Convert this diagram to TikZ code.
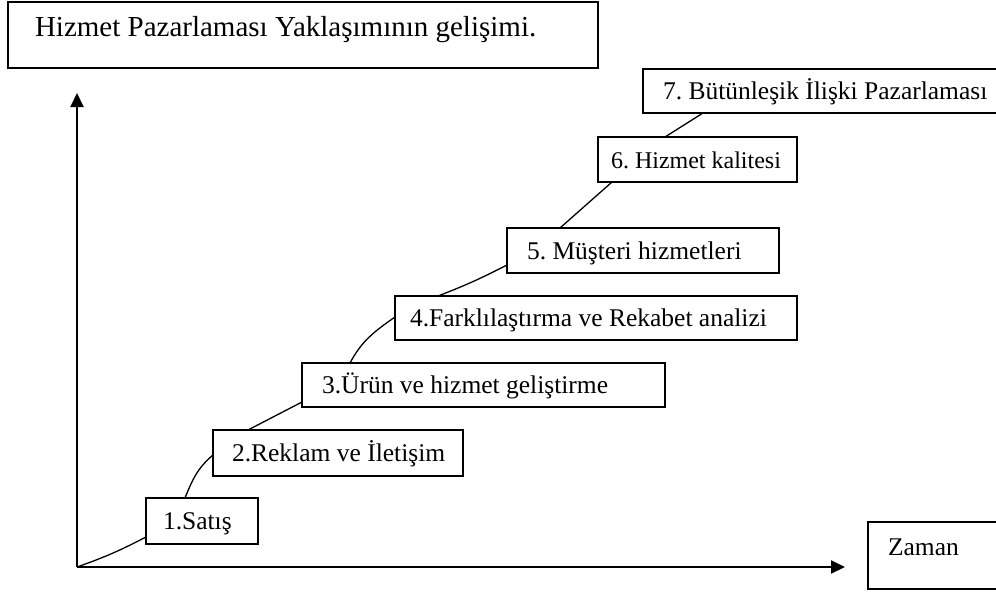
\documentclass[tikz,border=0pt]{standalone}
\usepackage{fontspec}
\setmainfont{Liberation Serif}
\usetikzlibrary{arrows.meta,calc}
\newcommand{\lbx}[2]{\makebox[#1][l]{#2}}
\frenchspacing
\begin{document}
\begin{tikzpicture}[x=1pt,y=-1pt,
  box/.style={draw, line width=1.3pt, rectangle, outer sep=0pt, inner ysep=0pt,
    anchor=north west, font=\fontsize{25.5}{30}\selectfont, text height=17pt, text depth=0pt},
  conn/.style={line width=1.3pt},
  axis/.style={line width=2pt, -{Triangle[length=14pt,width=13pt]}}]
\useasboundingbox (0,0) rectangle (996,592);
\clip (0,0) rectangle (996,592);

\node[box, line width=1.6pt, inner xsep=27pt, minimum width=590pt, minimum height=66pt,
  font=\fontsize{29}{34}\selectfont, text height=19pt, text depth=17pt] (title) at (8,2)
  {\lbx{536pt}{Hizmet Pazarlaması Yaklaşımının gelişimi.}};

\node[box, inner xsep=17pt, minimum width=112pt, minimum height=46pt] (b1) at (146,498) {\lbx{78pt}{1.Satış}};
\node[box, inner xsep=19pt, minimum width=250pt, minimum height=46pt] (b2) at (213,430) {\lbx{212pt}{2.Reklam ve İletişim}};
\node[box, inner xsep=20pt, minimum width=363pt, minimum height=44pt] (b3) at (302,363) {\lbx{323pt}{3.Ürün ve hizmet geliştirme}};
\node[box, inner xsep=15pt, minimum width=402pt, minimum height=44pt] (b4) at (395,296) {\lbx{372pt}{4.Farklılaştırma ve Rekabet analizi}};
\node[box, inner xsep=20pt, minimum width=272pt, minimum height=45pt] (b5) at (507,228) {\lbx{232pt}{5. Müşteri hizmetleri}};
\node[box, inner xsep=13pt, minimum width=199pt, minimum height=45pt, font=\fontsize{24}{29}\selectfont] (b6) at (598,137) {\lbx{173pt}{6. Hizmet kalitesi}};
\node[box, inner xsep=20pt, minimum width=380pt, minimum height=44pt] (b7) at (643,69) {\lbx{340pt}{7. Bütünleşik İlişki Pazarlaması}};
\node[box, inner xsep=20pt, minimum width=150pt, minimum height=67pt, text depth=18pt] (zaman) at (868,522) {\lbx{110pt}{Zaman}};

\coordinate (O) at (77,567);
\coordinate (ytop) at (77,93);
\coordinate (xend) at (845,567);
\draw[axis] (O) -- (ytop);
\draw[axis] (O) -- (xend);

\draw[conn] (O) to[bend right=4] ([yshift=7pt]b1.south west);
\draw[conn] ([xshift=39pt]b1.north west) to[out=68,in=220] ([yshift=21pt]b2.south west);
\draw[conn] ([xshift=35pt]b2.north west) -- ([yshift=5pt]b3.south west);
\draw[conn] ([xshift=48pt]b3.north west) to[out=62,in=215] ([yshift=23pt]b4.south west);
\draw[conn] ([xshift=43pt]b4.north west) to[bend right=3] ([yshift=8pt]b5.south west);
\draw[conn] ([xshift=53pt]b5.north west) -- ([xshift=14pt]b6.south west);
\draw[conn] ([xshift=67pt]b6.north west) -- ([xshift=60pt]b7.south west);
\end{tikzpicture}
\end{document}
